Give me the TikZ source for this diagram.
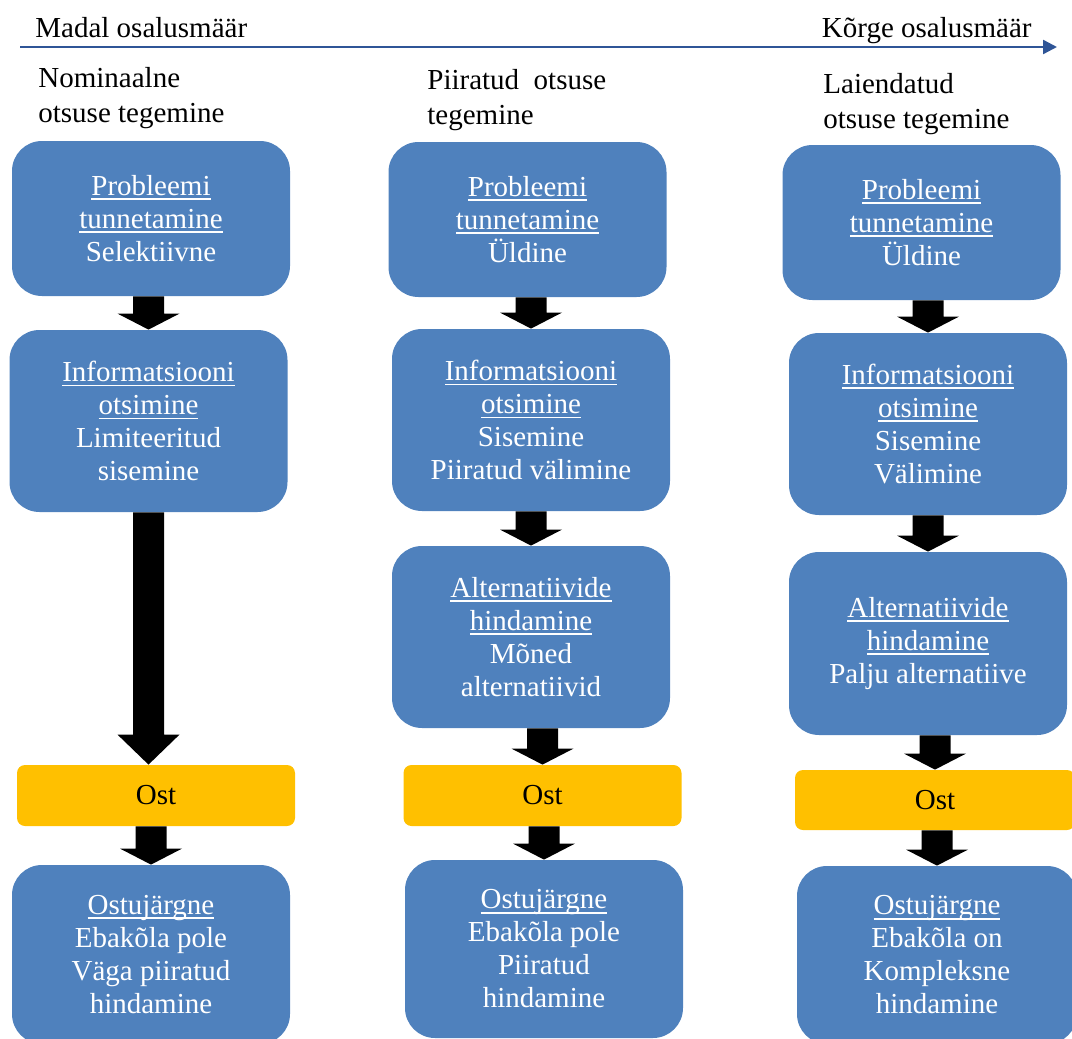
\documentclass[tikz,border=0pt]{standalone}
\usepackage{fontspec}
\setmainfont{Liberation Serif}
\usetikzlibrary{arrows.meta,calc,positioning}
\definecolor{stageblue}{HTML}{4F81BD}
\definecolor{buyyellow}{HTML}{FFC000}
\definecolor{axisblue}{HTML}{2F5597}
\newcommand{\hd}[1]{\setbox0\hbox{#1}\rlap{\rule[-2.4pt]{\wd0}{0.9pt}}\box0}
\newcommand{\stagearrow}[3][8pt]{%
	\fill let \p1=(#2), \p2=(#3) in
		(\x2-7.75pt,\y1) -- (\x2+7.75pt,\y1) -- (\x2+7.75pt,\y2+#1) -- (\x2+15.5pt,\y2+#1)
		-- (\x2,\y2) -- (\x2-15.5pt,\y2+#1) -- (\x2-7.75pt,\y2+#1) -- cycle;}

\begin{document}
\begin{tikzpicture}[x=0.5pt,y=-0.5pt,
		every node/.style={font=\fontsize{14.5}{16.5}\selectfont, inner sep=0pt},
		stage/.style={fill=stageblue, rounded corners=15pt, text=white, align=center, minimum width=139pt},
		buy/.style={fill=buyyellow, rounded corners=4pt, minimum width=139pt, minimum height=30.5pt},
		coltitle/.style={anchor=north west, align=left, font=\fontsize{14.5}{17.5}\selectfont}]
	\useasboundingbox (0,0) rectangle (1072,1039);
	\clip (0,0) rectangle (1072,1039);
	\coordinate (axisL) at (20,47);
	\coordinate (axisR) at (1057,47);
	\draw [axisblue, line width=1.2pt, -{Triangle[width=7pt,length=7pt]}] (axisL) -- (axisR);
	\node [anchor=base west] (low) at (35,37) {Madal osalusmäär};
	\node [anchor=base east] (high) at (1032,37) {Kõrge osalusmäär};
	\node [coltitle] (nom) at (38,67) {Nominaalne\\otsuse tegemine};
	\node [coltitle] (lim) at (427,69) {Piiratud\ \ otsuse\\tegemine};
	\node [coltitle] (ext) at (823,73) {Laiendatud\\otsuse tegemine};

	\node [stage, minimum height=77.5pt] (prob1) at (151,218.5) {\hd{Probleemi}\\\hd{tunnetamine}\\Selektiivne};
	\node [stage, minimum height=91pt] (info1) at (148.5,421) {\hd{Informatsiooni}\\\hd{otsimine}\\Limiteeritud\\sisemine};
	\node [buy] (ost1) at (156,795.5) {Ost};
	\node [stage, minimum height=89.5pt] (post1) at (151,954.5) {\hd{Ostujärgne}\\Ebakõla pole\\Väga piiratud\\hindamine};

	\node [stage, minimum height=77.5pt] (prob2) at (527.5,219.5) {\hd{Probleemi}\\\hd{tunnetamine}\\Üldine};
	\node [stage, minimum height=91pt] (info2) at (531,420) {\hd{Informatsiooni}\\\hd{otsimine}\\Sisemine\\Piiratud välimine};
	\node [stage, minimum height=91pt] (alt2) at (531,637) {\hd{Alternatiivide}\\\hd{hindamine}\\Mõned\\alternatiivid};
	\node [buy] (ost2) at (542.5,795.5) {Ost};
	\node [stage, minimum height=89pt] (post2) at (544,949) {\hd{Ostujärgne}\\Ebakõla pole\\Piiratud\\hindamine};

	\node [stage, minimum height=77.5pt] (prob3) at (921.5,222.5) {\hd{Probleemi}\\\hd{tunnetamine}\\Üldine};
	\node [stage, minimum height=91pt] (info3) at (928,424) {\hd{Informatsiooni}\\\hd{otsimine}\\Sisemine\\Välimine};
	\node [stage, minimum height=91.5pt] (alt3) at (928,643.5) {\hd{Alternatiivide}\\\hd{hindamine}\\Palju alternatiive};
	\node [buy, minimum width=140pt, minimum height=30pt] (ost3) at (935,800) {Ost};
	\node [stage, minimum width=140pt, minimum height=89pt] (post3) at (937,955) {\hd{Ostujärgne}\\Ebakõla on\\Kompleksne\\hindamine};

	\stagearrow{prob1.south}{info1.north}
	\stagearrow[15pt]{info1.south}{ost1.north -| info1.south}
	\stagearrow{ost1.south}{post1.north}
	\stagearrow{prob2.south}{info2.north}
	\stagearrow{info2.south}{alt2.north}
	\stagearrow{alt2.south}{ost2.north}
	\stagearrow{ost2.south}{post2.north}
	\stagearrow{prob3.south}{info3.north}
	\stagearrow{info3.south}{alt3.north}
	\stagearrow{alt3.south}{ost3.north}
	\stagearrow{ost3.south}{post3.north}
\end{tikzpicture}
\end{document}
